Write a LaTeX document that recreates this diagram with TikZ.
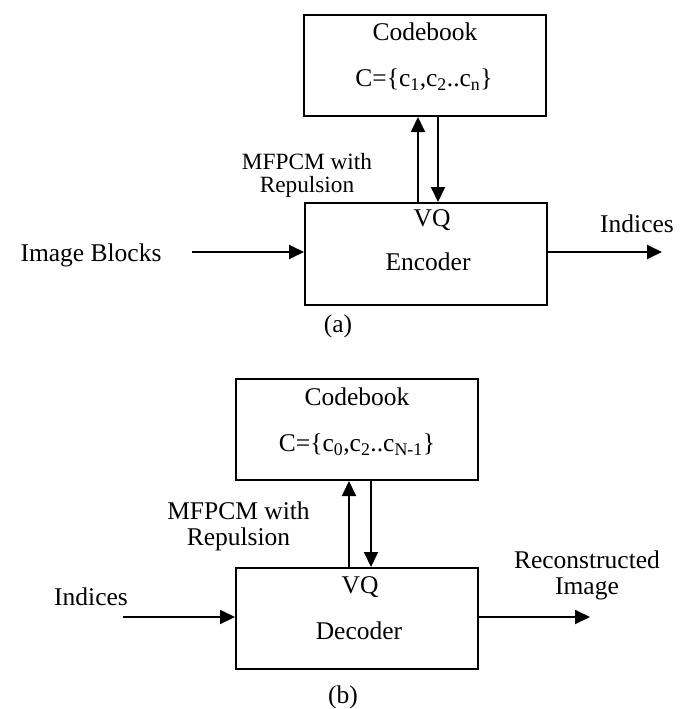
\documentclass[tikz,border=0pt]{standalone}
\usepackage{fontspec}
\setmainfont{Liberation Serif}
\usetikzlibrary{arrows.meta}
\begin{document}
\begin{tikzpicture}[x=1pt,y=-1pt,
  font=\fontsize{25.5}{29}\selectfont,
  block/.style={draw,line width=2pt,minimum width=242pt,minimum height=101pt,inner sep=0pt},
  lbl/.style={inner sep=0pt,anchor=center},
  arr/.style={line width=1.9pt,-{Triangle[length=15pt,width=14pt]}}]
\useasboundingbox (0,0) rectangle (688,709);

% ---------- (a) encoder ----------
\node[block] (cbA) at (425,65.5) {};
\node[lbl] (cbAt) at (425,32) {Codebook};
\node[lbl] (cbAs) at (424,80) {C=\{c\textsubscript{1},c\textsubscript{2}..c\textsubscript{n}\}};
\node[block,minimum height=102pt] (enc) at (426,254) {};
\node[lbl] (encq) at (432,220) {VQ};
\node[lbl] (enct) at (428,262) {Encoder};
\node[lbl,font=\fontsize{23.3}{27}\selectfont,align=center] (algA) at (307,175) {MFPCM with\\[-4pt]Repulsion};
\node[lbl] (inAt) at (91,255) {Image Blocks};
\node[lbl] (outAt) at (637,224) {Indices};
\node[lbl] (capA) at (338,326) {(a)};
\coordinate (inA) at (192,252);
\coordinate (outA) at (662,252);
\draw[arr] (inA) -- (inA -| enc.west);
\draw[arr] (outA -| enc.east) -- (outA);
\draw[arr] ([xshift=-8pt]enc.north) -- ([xshift=-8pt]enc.north |- cbA.south);
\draw[arr] ([xshift=12pt]enc.north |- cbA.south) -- ([xshift=12pt]enc.north);

% ---------- (b) decoder ----------
\node[block] (cbB) at (357,429.5) {};
\node[lbl] (cbBt) at (357,397) {Codebook};
\node[lbl] (cbBs) at (357,445) {C=\{c\textsubscript{0},c\textsubscript{2}..c\textsubscript{N-1}\}};
\node[block] (dec) at (357,618.5) {};
\node[lbl] (decq) at (360,587) {VQ};
\node[lbl] (dect) at (359,631) {Decoder};
\node[lbl,align=center] (algB) at (238.5,526) {MFPCM with\\[-3pt]Repulsion};
\node[lbl] (inBt) at (91,597) {Indices};
\node[lbl,align=center] (outBt) at (587,575) {Reconstructed\\[-3pt]Image};
\node[lbl] (capB) at (343,697) {(b)};
\coordinate (inB) at (123,617);
\coordinate (outB) at (590,617);
\draw[arr] (inB) -- (inB -| dec.west);
\draw[arr] (outB -| dec.east) -- (outB);
\draw[arr] ([xshift=-8pt]dec.north) -- ([xshift=-8pt]dec.north |- cbB.south);
\draw[arr] ([xshift=14pt]dec.north |- cbB.south) -- ([xshift=14pt]dec.north);
\end{tikzpicture}
\end{document}
